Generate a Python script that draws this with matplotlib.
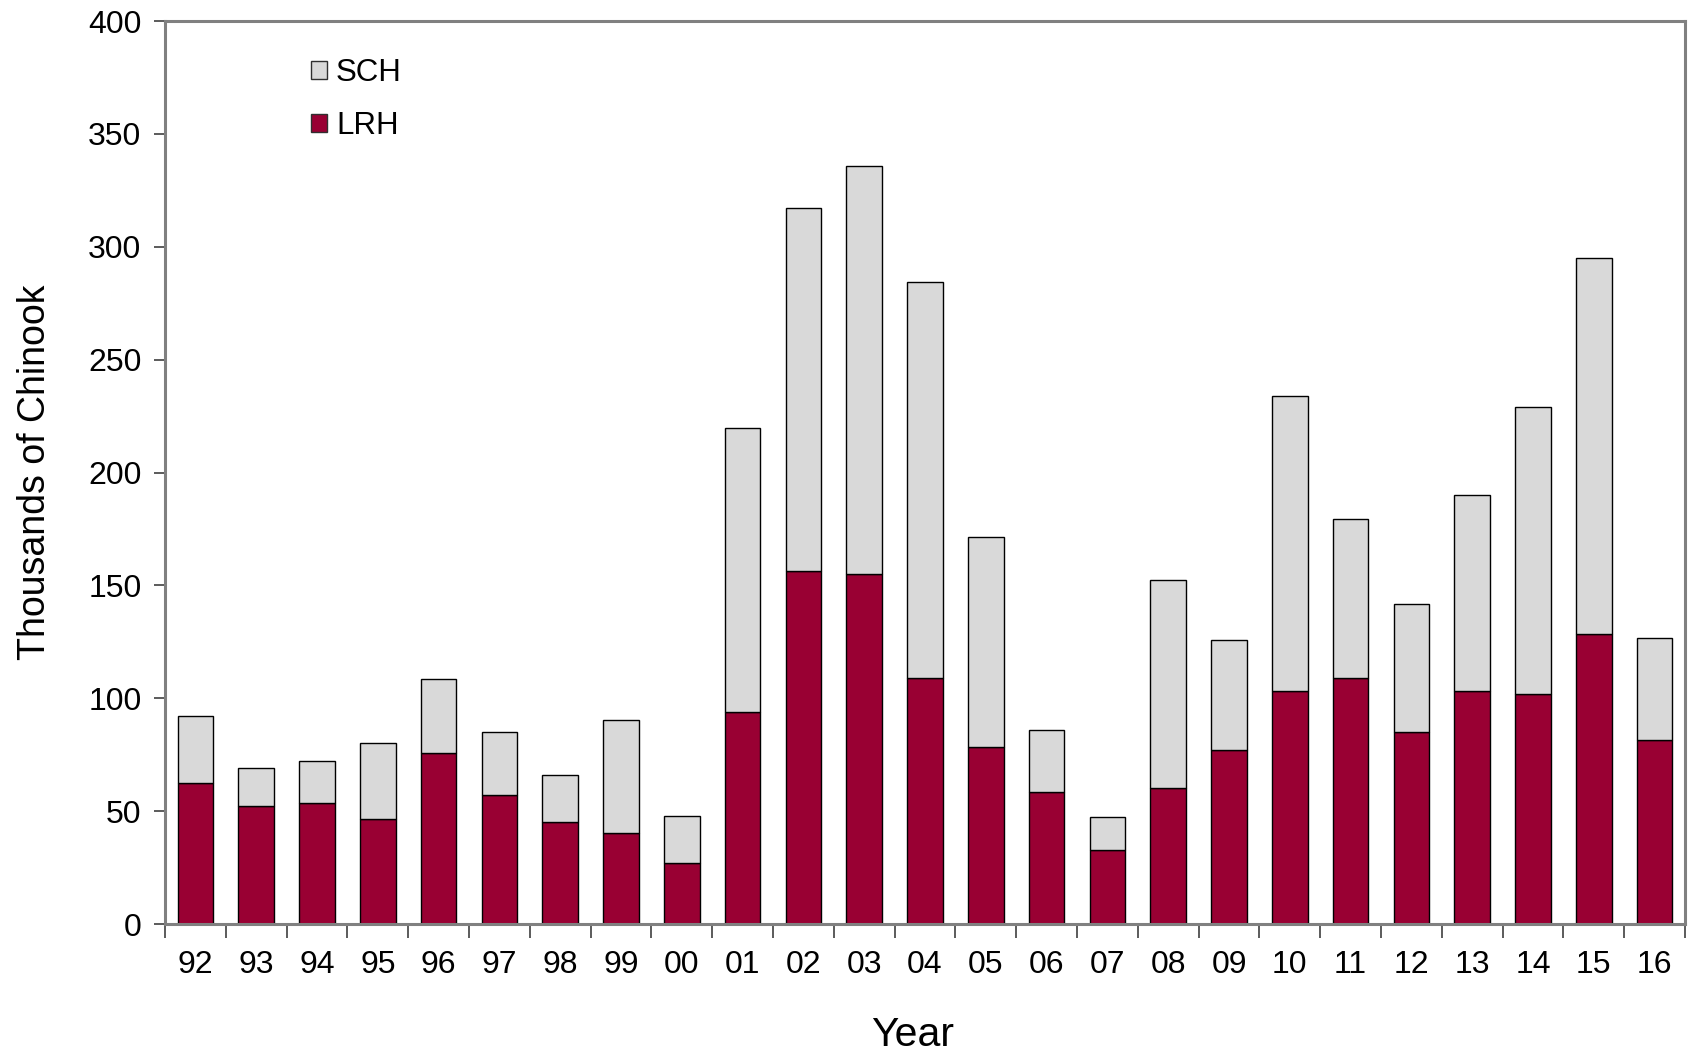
import matplotlib
matplotlib.use("Agg")
import matplotlib.pyplot as plt
from matplotlib.patches import Patch
import numpy as np

plt.rcParams['font.family'] = ['Liberation Sans', 'DejaVu Sans']

years = ["92", "93", "94", "95", "96", "97", "98", "99", "00", "01", "02", "03", "04",
         "05", "06", "07", "08", "09", "10", "11", "12", "13", "14", "15", "16"]
lrh = [62.6, 52.4, 53.8, 46.5, 75.7, 57.3, 45.3, 40.2, 27.1, 94.1, 156.5, 155.0, 109.0,
       78.4, 58.3, 33.0, 60.2, 76.9, 103.1, 109.0, 84.9, 103.2, 101.9, 128.6, 81.7]
total = [92.1, 69.3, 72.2, 80.3, 108.6, 85.0, 65.8, 90.3, 47.8, 219.6, 317.2, 335.8, 284.2,
         171.6, 86.0, 47.3, 152.2, 125.7, 234.0, 179.3, 141.6, 189.9, 228.9, 294.9, 126.6]
sch = [t - l for t, l in zip(total, lrh)]

LRH_COLOR = "#990033"
SCH_COLOR = "#D9D9D9"
SPINE = "#808080"

fig = plt.figure(figsize=(16.94, 10.53), dpi=100)
ax = fig.add_axes([165/1694, 1-924/1053, (1685-165)/1694, (924-21)/1053])

x = np.arange(len(years))
w = 0.588
ax.bar(x, lrh, width=w, color=LRH_COLOR, edgecolor="black", linewidth=1.0, zorder=2)
ax.bar(x, sch, width=w, bottom=lrh, color=SCH_COLOR, edgecolor="black", linewidth=1.0, zorder=2)

ax.set_xlim(-0.5, len(years) - 0.5)
ax.set_ylim(0, 400)
ax.set_yticks(np.arange(0, 401, 50))
ax.set_xticks(x)
ax.set_xticklabels(years)
ax.set_xticks(np.arange(-0.5, len(years), 1.0), minor=True)

ax.tick_params(axis='x', which='major', length=0, pad=19, labelsize=23)
ax.tick_params(axis='x', which='minor', length=10, width=1.2, color="#404040", direction='out')
ax.tick_params(axis='y', which='major', length=8, width=1.2, color="#404040", direction='out',
               pad=9, labelsize=23)

for s in ax.spines.values():
    s.set_color(SPINE)
    s.set_linewidth(2.2)

ax.set_ylabel("Thousands of Chinook", fontsize=27, labelpad=25)
ax.set_xlabel("Year", fontsize=29.5, labelpad=26)
ax.xaxis.label.set_x(0.4918)

handles = [Patch(facecolor=SCH_COLOR, edgecolor="#303030", linewidth=1.0, label="SCH"),
           Patch(facecolor=LRH_COLOR, edgecolor="#303030", linewidth=1.0, label="LRH")]
leg = ax.legend(handles=handles, loc='upper left', bbox_to_anchor=(0.096, 0.9586),
                frameon=False, fontsize=22.5, handlelength=0.52, handleheight=0.52,
                handletextpad=0.28, labelspacing=0.72, borderpad=0, borderaxespad=0)

fig.savefig("out.png", dpi=100)
